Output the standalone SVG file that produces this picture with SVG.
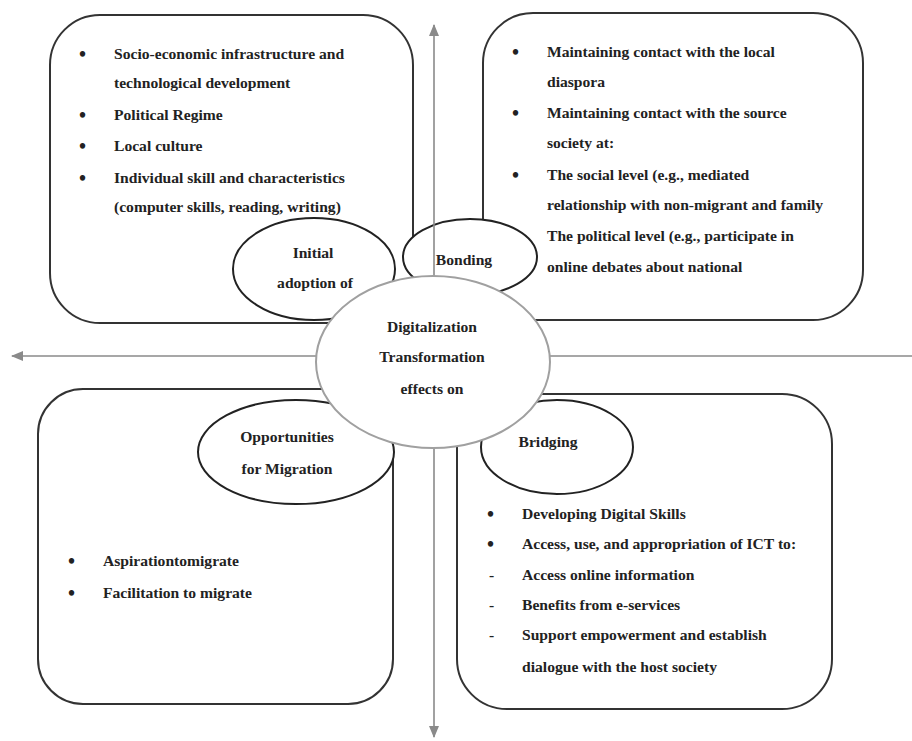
<svg xmlns="http://www.w3.org/2000/svg" width="912" height="741" viewBox="0 0 912 741">
<defs>
<marker id="ah" markerWidth="12" markerHeight="10" refX="11" refY="5" orient="auto" markerUnits="userSpaceOnUse">
<path d="M0,0 L12,5 L0,10 Z" fill="#8a8a8a"/>
</marker>
<style>
.box{fill:#fff;stroke:#333;stroke-width:2}
.ell{fill:#fff;stroke:#222;stroke-width:2}
.cen{fill:#fff;stroke:#a0a0a0;stroke-width:2}
.axis{stroke:#8a8a8a;stroke-width:1.6;fill:none}
text{font-family:"Liberation Serif","Times New Roman",serif;font-weight:bold;font-size:15.6px;fill:#222}
.c{text-anchor:middle}
.b{font-size:20px}
</style>
</defs>
<rect width="912" height="741" fill="#fff"/>

<g id="box-top-left">
<rect class="box" x="50" y="15" width="363" height="308" rx="50" ry="50"/>
<text x="79" y="61" class="b">•</text><text x="114" y="59">Socio-economic infrastructure and</text>
<text x="114" y="88">technological development</text>
<text x="79" y="122" class="b">•</text><text x="114" y="120">Political Regime</text>
<text x="79" y="153" class="b">•</text><text x="114" y="151">Local culture</text>
<text x="79" y="185" class="b">•</text><text x="114" y="183">Individual skill and characteristics</text>
<text x="114" y="212">(computer skills, reading, writing)</text>
</g>

<g id="box-top-right">
<rect class="box" x="483" y="13" width="380" height="307" rx="50" ry="50"/>
<text x="512" y="59" class="b">•</text><text x="547" y="57">Maintaining contact with the local</text>
<text x="547" y="87">diaspora</text>
<text x="512" y="120" class="b">•</text><text x="547" y="118">Maintaining contact with the source</text>
<text x="547" y="148">society at:</text>
<text x="512" y="182" class="b">•</text><text x="547" y="180">The social level (e.g., mediated</text>
<text x="547" y="210">relationship with non-migrant and  family</text>
<text x="547" y="241">The political level (e.g., participate in</text>
<text x="547" y="272">online debates about national</text>
</g>

<g id="box-bottom-left">
<rect class="box" x="38" y="389" width="355" height="315" rx="45" ry="45"/>
<text x="68" y="568" class="b">•</text><text x="103" y="566">Aspirationtomigrate</text>
<text x="68" y="600" class="b">•</text><text x="103" y="598">Facilitation to migrate</text>
</g>

<g id="box-bottom-right">
<rect class="box" x="457" y="394" width="375" height="315" rx="50" ry="50"/>
<text x="487" y="521" class="b">•</text><text x="522" y="519">Developing Digital Skills</text>
<text x="487" y="551" class="b">•</text><text x="522" y="549">Access, use, and appropriation of ICT to:</text>
<text x="489" y="580">-</text><text x="522" y="580">Access online information</text>
<text x="489" y="610">-</text><text x="522" y="610">Benefits from e-services</text>
<text x="489" y="640">-</text><text x="522" y="640">Support empowerment and establish</text>
<text x="522" y="672">dialogue with the host society</text>
</g>

<g id="node-initial">
<ellipse class="ell" cx="314" cy="269" rx="81" ry="51"/>
<text x="313" y="258" class="c">Initial</text>
<text x="315" y="288" class="c">adoption of</text>
</g>

<g id="node-bonding">
<ellipse class="ell" cx="470" cy="257" rx="67" ry="38"/>
<text x="464" y="265" class="c">Bonding</text>
</g>

<g id="node-opportunities">
<ellipse class="ell" cx="296" cy="452" rx="98" ry="52"/>
<text x="287" y="442" class="c">Opportunities</text>
<text x="287" y="474" class="c">for Migration</text>
</g>

<g id="node-bridging">
<ellipse class="ell" cx="557" cy="447" rx="76" ry="47"/>
<text x="548" y="447" class="c">Bridging</text>
</g>

<g id="connectors">
<line class="axis" x1="912" y1="356" x2="12" y2="356" marker-end="url(#ah)"/>
<line class="axis" x1="434" y1="380" x2="434" y2="25" marker-end="url(#ah)"/>
<line class="axis" x1="434" y1="380" x2="434" y2="737" marker-end="url(#ah)"/>
</g>

<g id="node-center">
<ellipse class="cen" cx="433" cy="362" rx="117" ry="86"/>
<text x="432" y="332" class="c">Digitalization</text>
<text x="432" y="362" class="c">Transformation</text>
<text x="432" y="394" class="c">effects on</text>
</g>
</svg>
